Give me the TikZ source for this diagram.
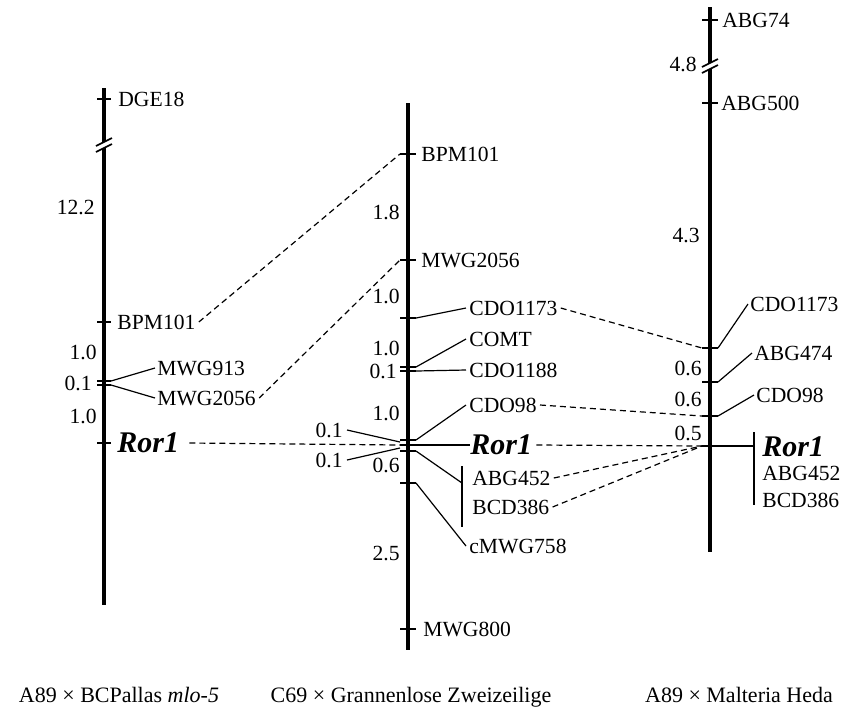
\documentclass[tikz,border=0pt]{standalone}
\usepackage{fontspec}
\setmainfont{Liberation Serif}
\begin{document}
\begin{tikzpicture}[x=0.5pt,y=-0.5pt]
\newcommand{\xleft}{104}
\newcommand{\xmid}{408}
\newcommand{\xright}{710}
\tikzstyle{chrom}=[line width=2pt]
\tikzstyle{tick}=[line width=0.8pt]
\tikzstyle{link}=[line width=0.6pt]
\tikzstyle{corr}=[line width=0.6pt,dash pattern=on 3pt off 2pt]
\tikzstyle{marker}=[anchor=west,inner sep=0pt,font=\fontsize{10.8}{13}\selectfont]
\tikzstyle{dist}=[anchor=east,inner sep=0pt,font=\fontsize{10.8}{13}\selectfont]
\tikzstyle{gene}=[anchor=west,inner sep=0pt,font=\fontsize{15}{18}\selectfont\bfseries\itshape]
\tikzstyle{cross}=[anchor=base,inner sep=0pt,font=\fontsize{11}{13}\selectfont]
\useasboundingbox (0,0) rectangle (853,720);
% left map
\draw[chrom] (\xleft,88) -- (\xleft,605);
\fill[white] (\xleft-8,146) -- (\xleft+8,138) -- (\xleft+8,144) -- (\xleft-8,152) -- cycle;
\draw[tick] (\xleft-8,146) -- (\xleft+8,138) (\xleft-8,152) -- (\xleft+8,144);
\coordinate (lDGE) at (\xleft,99);
\coordinate (lBPM) at (\xleft,322);
\coordinate (lMWGa) at (\xleft,381);
\coordinate (lMWGb) at (\xleft,385);
\coordinate (lRor) at (\xleft,443);
\foreach \c in {lDGE,lBPM,lMWGa,lMWGb,lRor}
  \draw[tick] ([xshift=-3.5pt]\c) -- ([xshift=3.5pt]\c);
\node[marker] (lDGEt) at (118,99) {DGE18};
\node[marker] (lBPMt) at (117,322) {BPM101};
\node[marker] (lMWGat) at (157,368) {MWG913};
\node[marker] (lMWGbt) at (157,398) {MWG2056};
\node[gene] (lRort) at (117,443) {Ror1};
\draw[link] ([xshift=3.5pt]lMWGa) -- ([xshift=-1pt]lMWGat.west);
\draw[link] ([xshift=3.5pt]lMWGb) -- ([xshift=-1pt]lMWGbt.west);
\node[dist] (ld1) at (95,207) {12.2};
\node[dist] (ld2) at (97,352) {1.0};
\node[dist] (ld3) at (92,383) {0.1};
\node[dist] (ld4) at (97,416) {1.0};
% middle map
\draw[chrom] (\xmid,103) -- (\xmid,650);
\coordinate (mBPM) at (\xmid,154);
\coordinate (mMWG) at (\xmid,260);
\coordinate (mCDOa) at (\xmid,318);
\coordinate (mCOMT) at (\xmid,367);
\coordinate (mCDOb) at (\xmid,371);
\coordinate (mCDOc) at (\xmid,440);
\coordinate (mRor) at (\xmid,445);
\coordinate (mABG) at (\xmid,451);
\coordinate (mcMWG) at (\xmid,483);
\coordinate (mMWG8) at (\xmid,629);
\foreach \c in {mBPM,mMWG,mCDOa,mCOMT,mCDOb,mCDOc,mRor,mABG,mcMWG,mMWG8}
  \draw[tick] ([xshift=-4pt]\c) -- ([xshift=4pt]\c);
\node[marker] (mBPMt) at (421,154) {BPM101};
\node[marker] (mMWGt) at (421,260) {MWG2056};
\node[marker] (mCDOat) at (469,308) {CDO1173};
\node[marker] (mCOMTt) at (469,339) {COMT};
\node[marker] (mCDObt) at (469,370) {CDO1188};
\node[marker] (mCDOct) at (469,405) {CDO98};
\node[gene] (mRort) at (470,445) {Ror1};
\node[marker] (mABGt) at (472,478) {ABG452};
\node[marker] (mBCDt) at (472,507) {BCD386};
\node[marker] (mcMWGt) at (469,546) {cMWG758};
\node[marker] (mMWG8t) at (423,629) {MWG800};
\coordinate (mBarTop) at (462,466);
\coordinate (mBarJoin) at (462,483);
\coordinate (mBarBot) at (462,527);
\draw[link] ([xshift=4pt]mCDOa) -- ([xshift=-1.5pt]mCDOat.west);
\draw[link] ([xshift=4pt]mCOMT) -- ([xshift=-1.5pt]mCOMTt.west);
\draw[link] ([xshift=4pt]mCDOb) -- ([xshift=-1.5pt]mCDObt.west);
\draw[link] ([xshift=4pt]mCDOc) -- ([xshift=-1.5pt]mCDOct.west);
\draw[link] ([xshift=4pt]mRor) -- (mRort.west);
\draw[link] ([xshift=4pt]mABG) -- (mBarJoin);
\draw[link] (mBarTop) -- (mBarBot);
\draw[link] ([xshift=4pt]mcMWG) -- ([xshift=-1.5pt]mcMWGt.west);
\node[dist] (md1) at (400,212) {1.8};
\node[dist] (md2) at (400,296) {1.0};
\node[dist] (md3) at (400,348) {1.0};
\node[dist] (md4) at (397,371) {0.1};
\node[dist] (md5) at (400,413) {1.0};
\node[dist] (md6) at (400,465) {0.6};
\node[dist] (md7) at (400,553) {2.5};
\node[dist] (m01a) at (343,430) {0.1};
\node[dist] (m01b) at (343,460) {0.1};
\coordinate (mGapA) at (400,442);
\coordinate (mGapB) at (400,448);
\draw[link] ([xshift=2pt]m01a.east) -- (mGapA);
\draw[link] ([xshift=2pt]m01b.east) -- (mGapB);
% right map
\draw[chrom] (\xright,7) -- (\xright,552);
\fill[white] (\xright-8,67) -- (\xright+8,59) -- (\xright+8,65) -- (\xright-8,73) -- cycle;
\draw[tick] (\xright-8,67) -- (\xright+8,59) (\xright-8,73) -- (\xright+8,65);
\coordinate (rABG74) at (\xright,20);
\coordinate (rABG500) at (\xright,103);
\coordinate (rCDOa) at (\xright,348);
\coordinate (rABG474) at (\xright,382);
\coordinate (rCDOb) at (\xright,416);
\coordinate (rRor) at (\xright,446);
\foreach \c in {rABG74,rABG500,rCDOa,rABG474,rCDOb,rRor}
  \draw[tick] ([xshift=-4pt]\c) -- ([xshift=4pt]\c);
\node[marker] (rABG74t) at (722,20) {ABG74};
\node[marker] (rABG500t) at (721,103) {ABG500};
\node[marker] (rCDOat) at (750,304) {CDO1173};
\node[marker] (rABG474t) at (754,353) {ABG474};
\node[marker] (rCDObt) at (756,395) {CDO98};
\node[gene] (rRort) at (762,447) {Ror1};
\node[marker] (rABG452t) at (762,473) {ABG452};
\node[marker] (rBCDt) at (762,500) {BCD386};
\coordinate (rBarTop) at (754,432);
\coordinate (rBarJoin) at (754,446);
\coordinate (rBarBot) at (754,505);
\draw[link] ([xshift=4pt]rCDOa) -- ([xshift=-1pt]rCDOat.west);
\draw[link] ([xshift=4pt]rABG474) -- ([xshift=-1pt]rABG474t.west);
\draw[link] ([xshift=4pt]rCDOb) -- ([xshift=-1pt]rCDObt.west);
\draw[link] (rRor) -- (rBarJoin);
\draw[link] (rBarTop) -- (rBarBot);
\node[dist] (rd1) at (697,64) {4.8};
\node[dist] (rd2) at (700,235) {4.3};
\node[dist] (rd3) at (702,368) {0.6};
\node[dist] (rd4) at (702,399) {0.6};
\node[dist] (rd5) at (702,433) {0.5};
% correspondences
\draw[corr] ([xshift=1.5pt]lBPMt.east) -- ([xshift=-4pt]mBPM);
\draw[corr] ([xshift=1.5pt]lMWGbt.east) -- ([xshift=-4pt]mMWG);
\draw[corr] ([xshift=5pt]lRort.east) -- ([xshift=-4pt]mRor);
\draw[corr] ([xshift=1.5pt]mCDOat.east) -- ([xshift=-4pt]rCDOa);
\draw[corr] ([xshift=1.5pt]mCDOct.east) -- ([xshift=-4pt]rCDOb);
\draw[corr] ([xshift=2pt]mRort.east) -- ([xshift=-4pt]rRor);
\draw[corr] ([xshift=1.5pt]mABGt.east) -- ([xshift=-4pt]rRor);
\draw[corr] ([xshift=1.5pt]mBCDt.east) -- ([xshift=-4pt]rRor);
% crosses
\node[cross] (xl) at (119,702) {A89 × BCPallas \textit{mlo-5}};
\node[cross] (xm) at (411,702) {C69 × Grannenlose Zweizeilige};
\node[cross] (xr) at (739,702) {A89 × Malteria Heda};
\end{tikzpicture}
\end{document}
